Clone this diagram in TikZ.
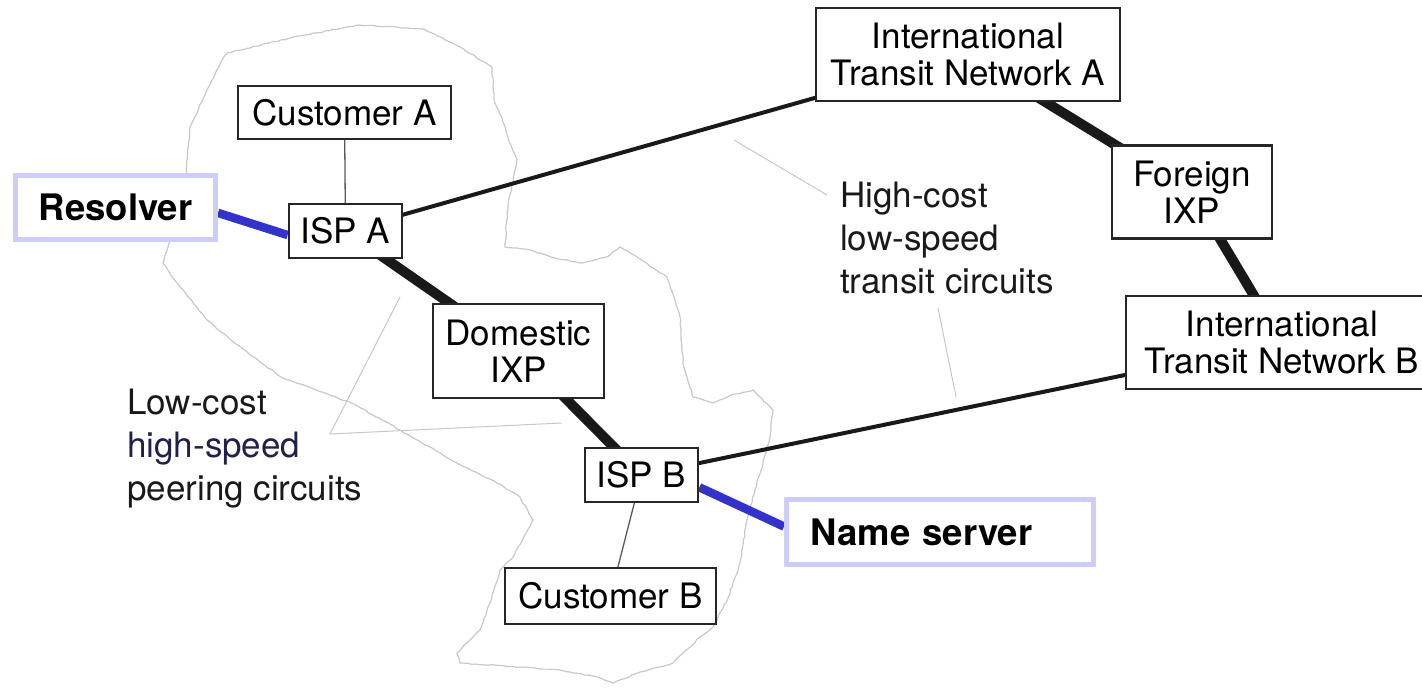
\documentclass[tikz,border=0pt]{standalone}
\usepackage{fontspec}
\setmainfont{TeX Gyre Heros}
\usetikzlibrary{backgrounds, decorations.pathmorphing}
\definecolor{lavender}{HTML}{CCCCFF}
\definecolor{dnsblue}{HTML}{3333CC}
\definecolor{mapgray}{HTML}{C8C8C8}
\definecolor{navytext}{HTML}{20204E}

\tikzset{
  box/.style={draw=black!85, line width=2.8pt, fill=white, inner sep=0pt, align=center, text=black,
    font=\fontsize{35}{37}\selectfont},
  dnsbox/.style={draw=lavender, line width=5pt, fill=white, inner sep=0pt,
    font=\bfseries\fontsize{36.5}{38}\selectfont},
  peering/.style={line width=10pt, black!90},
  transit/.style={line width=4pt, black!90},
  access/.style={line width=1.3pt, black!65},
  dnslink/.style={line width=8.5pt, dnsblue},
  leader/.style={line width=1pt, black!22},
  note/.style={align=left, inner sep=0pt, anchor=north west, text=black!90,
    font=\fontsize{35}{43}\selectfont}
}

\begin{document}
\begin{tikzpicture}[x=1pt, y=-1pt]
      \useasboundingbox (0,0) rectangle (1422,688);

      % Boxes inside the country
      \node[box, minimum width=213pt, minimum height=53pt] (custA) at (344.5,112.5) {Customer A};
      \node[box, minimum width=113pt, minimum height=54pt] (ispA) at (345.5,231) {ISP A};
      \node[box, minimum width=171pt, minimum height=94pt] (domixp) at (518.5,351) {Domestic\\IXP};
      \node[box, minimum width=113pt, minimum height=54pt] (ispB) at (641.5,475) {ISP B};
      \node[box, minimum width=211pt, minimum height=56pt] (custB) at (610.5,596) {Customer B};

      % Boxes abroad
      \node[box, minimum width=304pt, minimum height=93pt] (intlA) at (968,54.5) {International\\Transit Network A};
      \node[box, minimum width=160pt, minimum height=93pt] (forixp) at (1192,192) {Foreign\\IXP};
      \node[box, minimum width=312pt, minimum height=93pt] (intlB) at (1282,342.5) {International\\Transit Network B};

      % DNS boxes
      \node[dnsbox, minimum width=200pt, minimum height=64pt] (resolver) at (115.5,207.5) {Resolver};
      \node[dnsbox, minimum width=307pt, minimum height=65pt, text width=259pt, align=left] (nameserver) at (940,532) {Name server};

      % Labels for the circuits
      \node[note] (highcost) at (840,182) {High-cost\\low-speed\\transit circuits};
      \node[note] (lowcost) at (127,389) {Low-cost\\{\color{navytext}high-speed}\\peering circuits};
      \coordinate (hcA) at (734,140);
      \coordinate (hcB) at (827,195);
      \coordinate (hcC) at (938,308);
      \coordinate (hcD) at (956,397);
      \coordinate (lcA) at (400,297);
      \coordinate (lcB) at (330,434);
      \coordinate (lcC) at (562,423);

      \begin{pgfonlayer}{background}
      % Map of the country
      \draw[mapgray, line width=1.2pt, decorate, decoration={random steps, segment length=4pt, amplitude=0.6pt}]
        (227,53) -- (290,38) -- (358,25) -- (424,29) -- (460,47) -- (492,67) -- (494,100) -- (502,118)
        -- (508,137) -- (517,160) -- (512,185) -- (508,205) -- (505,247) -- (530,250) -- (555,258)
        -- (580,263) -- (607,257) -- (620,247) -- (630,253) -- (667,277) -- (674,297) -- (680,317)
        -- (683,363) -- (693,397) -- (713,403) -- (735,394) -- (753,390) -- (773,410) -- (770,437)
        -- (763,463) -- (755,490) -- (747,520) -- (740,563) -- (728,598) -- (713,627) -- (700,637)
        -- (673,663) -- (640,672) -- (613,683) -- (597,677) -- (560,670) -- (520,667) -- (460,663)
        -- (457,653) -- (480,630) -- (490,603) -- (500,570) -- (513,557) -- (533,520) -- (520,497)
        -- (497,483) -- (457,463) -- (400,430) -- (354,404) -- (281,377) -- (236,344) -- (207,320)
        -- (180,287) -- (163,263) -- (168,247) -- (178,210) -- (186,177) -- (190,127) -- (205,95)
        -- (222,60) -- cycle;

      % Leader lines
      \draw[leader] (hcA) -- (hcB);
      \draw[leader] (hcC) -- (hcD);
      \draw[leader] (lcA) -- (lcB) -- (lcC);

      % Circuits
      \draw[access] (custA.center) -- (ispA.center);
      \draw[access] (custB.center) -- (ispB.center);
      \draw[peering] (ispA.center) -- (domixp.center) -- (ispB.center);
      \draw[peering] (intlA.center) -- (forixp.center) -- (intlB.center);
      \draw[transit] (ispA.center) -- (intlA.center);
      \draw[transit] (ispB.center) -- (intlB.center);

      % DNS links
      \draw[dnslink] (resolver.-3) -- (ispA.184);
      \draw[dnslink] (ispB.-12) -- (nameserver.178);
      \end{pgfonlayer}
    \end{tikzpicture}
\end{document}
